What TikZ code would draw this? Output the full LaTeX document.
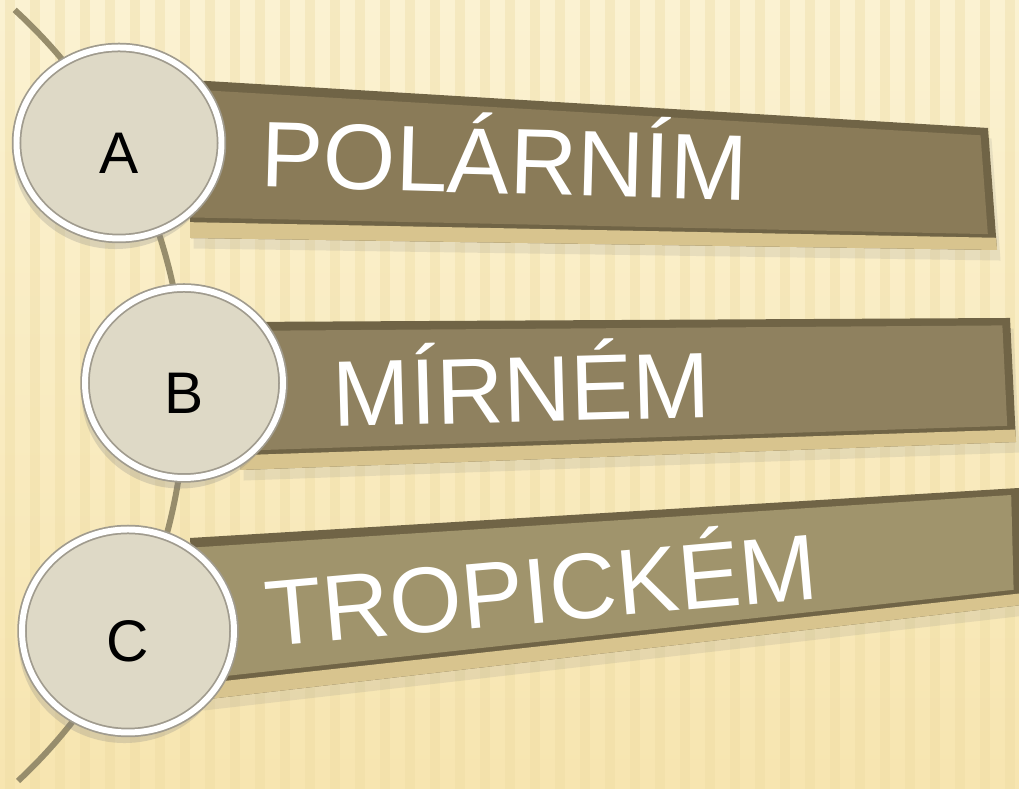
\documentclass[tikz,border=0pt]{standalone}
\usepackage{fontspec}
\setmainfont{Liberation Sans}
\usepackage{tikz}
\usetikzlibrary{shapes.geometric,shadows,calc}

\definecolor{paper}{RGB}{251,242,210}
\definecolor{paperlow}{RGB}{247,229,176}
\definecolor{stripe}{RGB}{236,218,160}
\definecolor{spine}{RGB}{151,141,108}
\definecolor{bardark}{RGB}{112,100,70}
\definecolor{barlight}{RGB}{216,196,142}
\definecolor{faceA}{RGB}{138,123,88}
\definecolor{faceB}{RGB}{143,129,95}
\definecolor{faceC}{RGB}{160,148,108}
\definecolor{discfill}{RGB}{222,217,198}
\definecolor{ring}{RGB}{160,155,142}

\begin{document}
\begin{tikzpicture}
    \tikzstyle{disc}=[ellipse,draw=ring,line width=0.5pt,double=white,double distance=1.7pt,fill=discfill,
        text height=17.5pt,text depth=0pt,inner sep=0pt,font=\fontsize{16.7}{20}\selectfont,
        drop shadow={shadow xshift=-1pt,shadow yshift=-3pt,opacity=0.25}]
    \tikzstyle{word}=[anchor=base west,inner sep=0pt,text=white,font=\fontsize{26.5}{30}\selectfont]
    \tikzstyle{barshadow}=[drop shadow={shadow xshift=1pt,shadow yshift=-3pt,opacity=0.15}]

    \clip (0,0) rectangle (10.19,7.89);
    \shade[top color=paper,bottom color=paperlow] (0,0) rectangle (10.19,7.89);
    \foreach \x in {0.05,0.3,...,10.2}
        \fill[stripe,opacity=0.35] (\x,0) rectangle ++(0.1,7.89);

    % spine behind the discs
    \draw[spine,line width=1.7pt] (-3.40,3.92) ++(47.5:5.25) arc[start angle=47.5,end angle=-47,radius=5.25];

    % bars
    \coordinate (B-1-tl) at (1.90,7.09);
    \coordinate (B-1-tr) at (9.88,6.61);
    \coordinate (B-1-br) at (9.97,5.39);
    \coordinate (B-1-bl) at (1.90,5.51);

    \coordinate (B-2-tl) at (2.40,4.67);
    \coordinate (B-2-tr) at (10.10,4.71);
    \coordinate (B-2-br) at (10.16,3.47);
    \coordinate (B-2-bl) at (2.40,3.19);

    \coordinate (B-3-tl) at (1.90,2.51);
    \coordinate (B-3-tr) at (10.19,3.01);
    \coordinate (B-3-br) at (10.22,1.84);
    \coordinate (B-3-bl) at (2.00,0.89);

    \foreach \b/\face in {1/faceA,2/faceB,3/faceC}{
        \fill[bardark,barshadow] (B-\b-tl) -- (B-\b-tr) -- (B-\b-br) -- (B-\b-bl) -- cycle;
        \fill[barlight] ($(B-\b-bl)!0.1!(B-\b-tl)$) -- ($(B-\b-br)!0.1!(B-\b-tr)$) -- (B-\b-br) -- (B-\b-bl) -- cycle;
        \fill[\face] ($(B-\b-tl)!0.06!(B-\b-bl)$) -- ($(B-\b-tr)!0.06!(B-\b-br)+(-0.08,0)$)
            -- ($(B-\b-br)!0.13!(B-\b-tr)+(-0.08,0)$) -- ($(B-\b-bl)!0.13!(B-\b-tl)$) -- cycle;
    }

    \node[word,rotate=-1.55] (W-1) at (2.60,6.02) {POLÁRNÍM};
    \node[word,rotate=1.5] (W-2) at (3.33,3.62) {MÍRNÉM};
    \node[word,rotate=5.05] (W-3) at (2.68,1.42) {TROPICKÉM};

    \node[disc,minimum width=2.05cm,minimum height=1.91cm] (C-1) at (1.19,6.46) {A};
    \node[disc,minimum width=1.98cm,minimum height=1.90cm] (C-2) at (1.84,4.06) {B};
    \node[disc,minimum width=2.12cm,minimum height=2.03cm] (C-3) at (1.28,1.58) {C};
\end{tikzpicture}
\end{document}
